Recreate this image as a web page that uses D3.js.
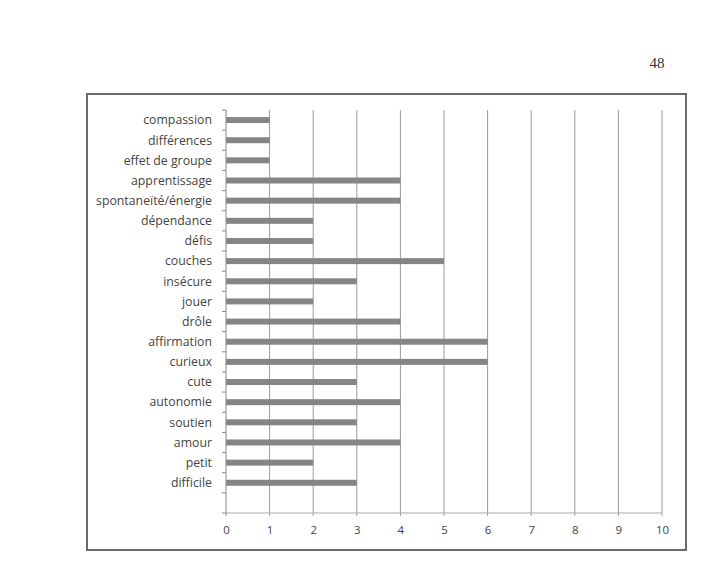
<!DOCTYPE html>
<html>
<head>
<meta charset="utf-8">
<script src="https://cdn.jsdelivr.net/npm/d3@7"></script>
<style>
  body { margin: 0; background: #fff; }
  svg text { font-family: "Open Sans", "Liberation Sans", sans-serif; fill: #444; }
</style>
</head>
<body>
<div id="chart"></div>
<script>
'use strict';

const categories = ['compassion', 'différences', 'effet de groupe', 'apprentissage',
  'spontaneïté/énergie', 'dépendance', 'défis', 'couches', 'insécure', 'jouer', 'drôle',
  'affirmation', 'curieux', 'cute', 'autonomie', 'soutien', 'amour', 'petit', 'difficile'];
const values = [1, 1, 1, 4, 4, 2, 2, 5, 3, 2, 4, 6, 6, 3, 4, 3, 4, 2, 3];
const xTicks = [0, 1, 2, 3, 4, 5, 6, 7, 8, 9, 10];
const pageNumber = '48';

const margin = {left: 226, top: 110, right: 47, bottom: 62};
const W = 709, H = 575;
const width = W - margin.left - margin.right;
const height = H - margin.top - margin.bottom;

const svg = d3.select('#chart')
    .append('svg')
    .attr('width', W)
    .attr('height', H);

// page number
svg.append('text')
    .attr('x', 657)
    .attr('y', 68)
    .attr('text-anchor', 'middle')
    .style('font-family', '"Liberation Serif", serif')
    .style('font-size', '15px')
    .style('fill', '#333')
    .text(pageNumber);

// chart frame
svg.append('rect')
    .attr('x', 87)
    .attr('y', 94)
    .attr('width', 599)
    .attr('height', 456)
    .attr('fill', 'none')
    .attr('stroke', '#6a6a6a')
    .attr('stroke-width', 2);

const graph = svg.append('g')
    .attr('transform', `translate(${margin.left}, ${margin.top})`);

const x = d3.scaleLinear().domain([0, 10]).range([0, width]);
// one empty slot below the last category, as in the original
const y = d3.scaleBand().domain(categories.concat([''])).range([0, height]);

// vertical gridlines, running a little below the axis line
graph.append('g')
    .selectAll('line')
    .data(xTicks.slice(1))
    .join('line')
    .attr('x1', d => x(d))
    .attr('x2', d => x(d))
    .attr('y1', 0)
    .attr('y2', height + 3)
    .attr('stroke', '#9a9a9a')
    .attr('stroke-width', 1);

// bottom axis line
graph.append('line')
    .attr('x1', 0)
    .attr('x2', width)
    .attr('y1', height)
    .attr('y2', height)
    .attr('stroke', '#a8a8a8');

const xAxis = d3.axisBottom(x).tickValues(xTicks).tickSize(0).tickPadding(13);
graph.append('g')
    .attr('class', 'x-axis')
    .attr('transform', `translate(0, ${height})`)
    .call(xAxis)
    .call(g => g.select('.domain').remove())
    .selectAll('text')
    .style('font-size', '11.5px');

// bars
const barH = 6;
graph.append('g')
    .selectAll('rect')
    .data(categories.map((c, i) => ({c, v: values[i]})))
    .join('rect')
    .attr('x', x(0))
    .attr('y', d => y(d.c) + y.bandwidth() / 2 - barH / 2)
    .attr('width', d => x(d.v) - x(0))
    .attr('height', barH)
    .attr('fill', '#858585');

// left axis with ticks at band boundaries
const yBounds = d3.range(categories.length + 2).map(i => i * y.step());
graph.append('line')
    .attr('x1', 0).attr('x2', 0)
    .attr('y1', 0).attr('y2', height + 3)
    .attr('stroke', '#888');
graph.append('g')
    .selectAll('line')
    .data(yBounds)
    .join('line')
    .attr('x1', -4).attr('x2', 0)
    .attr('y1', d => d).attr('y2', d => d)
    .attr('stroke', '#888');

graph.append('g')
    .selectAll('text')
    .data(categories)
    .join('text')
    .attr('x', -14)
    .attr('y', d => y(d) + y.bandwidth() / 2)
    .attr('dy', '0.35em')
    .attr('text-anchor', 'end')
    .style('font-size', '12.3px')
    .text(d => d);
</script>
</body>
</html>
